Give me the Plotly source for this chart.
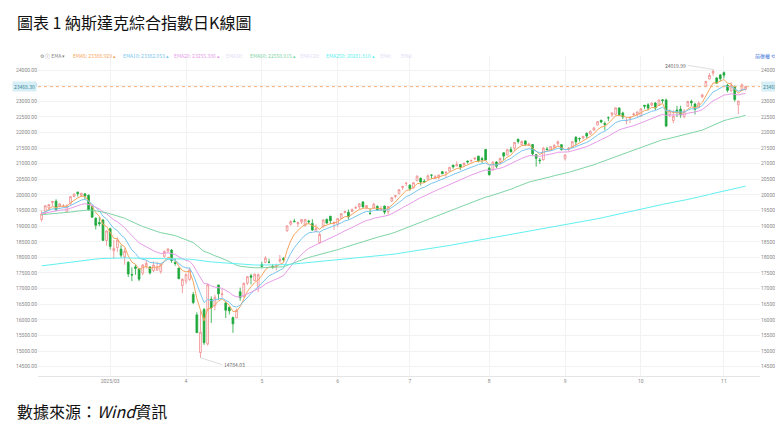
import plotly.graph_objects as go
import pandas as pd

months = {
 "2025-02": [3,4,5,6,7,10,11,12,13,14,18,19,20,21,24,25,26,27,28],
 "2025-03": [3,4,5,6,7,10,11,12,13,14,17,18,19,20,21,24,25,26,27,28,31],
 "2025-04": [1,2,3,4,7,8,9,10,11,14,15,16,17,21,22,23,24,25,28,29,30],
 "2025-05": [1,2,5,6,7,8,9,12,13,14,15,16,19,20,21,22,23,27,28,29,30],
 "2025-06": [2,3,4,5,6,9,10,11,12,13,16,17,18,20,23,24,25,26,27,30],
 "2025-07": [1,2,3,7,8,9,10,11,14,15,16,17,18,21,22,23,24,25,28,29,30,31],
 "2025-08": [1,4,5,6,7,8,11,12,13,14,15,18,19,20,21,22,25,26,27,28,29],
 "2025-09": [2,3,4,5,8,9,10,11,12,15,16,17,18,19,22,23,24,25,26,29,30],
 "2025-10": [1,2,3,6,7,8,9,10,13,14,15,16,17,20,21,22,23,24,27,28,29,30,31],
 "2025-11": [3,4,5,6,7,10,11],
}
dates = [f"{m}-{d:02d}" for m, ds in months.items() for d in ds]

opens = [19215,19404,19585,19757,19800,19641,19623,19460,19716,19945,20086,19978,20037,19987,19633,19252,19117,19199,18540,
 18914,18209,18314,18262,18016,17843,17450,17695,17626,17496,17719,17693,17579,17589,17542,18035,18203,18233,17834,17658,17097,
 17237,17292,16810,16157,14951,16327,15227,16660,16450,17116,16809,16539,16401,16071,16064,16900,16739,17173,17408,17256,17071,
 17768,17838,17848,17710,17716,17881,17965,18855,19062,19161,19076,19138,19020,19164,19088,18831,18470,18984,19220,19320,19095,
 19059,19250,19431,19446,19473,19586,19619,19777,19559,19411,19572,19634,19517,19645,19457,19797,19954,20039,20236,20370,
 20313,20226,20451,20531,20437,20503,20634,20521,20554,20744,20711,20764,20955,20927,20975,20973,21085,21093,21154,21242,21166,21458,
 20858,20796,21053,20988,21353,21283,21458,21497,21783,21612,21730,21587,21615,21293,21115,21129,21472,21433,21516,21638,21611,
 21167,21460,21530,21851,21809,21823,21975,21954,22076,22240,22394,22291,22473,22570,22582,22787,22626,22376,22460,22573,22580,
 22525,22872,22887,22879,22944,22864,23047,23041,22568,22385,22720,22750,22513,22837,22996,22910,22802,23138,23472,23713,23902,23748,23841,
 23917,23516,23337,23471,22891,23363,23382]
highs = [19502,19671,19699,19798,19862,19730,19708,19700,19958,20045,20110,20060,20048,20016,19650,19284,19292,19224,18864,
 18950,18551,18640,18389,18289,17875,17678,17770,17654,17787,17915,17714,17875,17857,17798,18221,18281,18264,17955,17661,17325,
 17484,17681,16893,16241,16292,16384,17148,16753,16801,17118,16988,16596,16423,16101,16357,17029,17196,17389,17475,17479,17483,
 17858,18040,17959,17781,17801,18076,18008,19016,19189,19237,19145,19218,19226,19203,19227,19057,18795,19209,19236,19324,19154,
 19253,19419,19497,19532,19566,19652,19736,19799,19671,19575,19749,19666,19651,19656,19631,19934,20001,20187,20292,20418,
 20338,20395,20624,20558,20504,20656,20656,20634,20643,20770,20734,20889,20956,21077,20980,21021,21102,21110,21190,21253,21220,21457,
 20909,21058,21084,21195,21354,21464,21541,21690,21803,21743,21743,21669,21618,21293,21182,21541,21543,21553,21625,21740,21611,
 21293,21530,21708,21879,21840,21882,22000,22043,22182,22349,22396,22350,22513,22631,22800,22795,22665,22477,22510,22638,22660,
 22780,22878,22938,22966,22974,23051,23069,23086,22741,22715,22853,22858,22749,23016,23048,22954,22997,23235,23652,23903,24020,23768,23877,
 23956,23555,23613,23505,23014,23570,23484]
lows = [19141,19400,19514,19640,19487,19609,19598,19450,19688,19927,19948,19935,19864,19500,19274,18894,18996,18538,18372,
 18253,17956,18175,17998,17765,17367,17238,17442,17239,17431,17638,17449,17528,17564,17477,17987,18145,17828,17730,17293,16854,
 17141,17247,16503,15576,14784,15196,15177,15898,16305,16642,16708,16053,16168,15584,16050,16608,16723,17115,17133,17247,16889,
 17662,17815,17806,17635,17579,17826,17871,18814,19014,19119,18970,19066,18990,19061,18852,18812,18445,18944,19070,19063,18876,
 18977,19227,19423,19211,19447,19550,19551,19591,19546,19362,19569,19497,19483,19379,19373,19784,19895,20025,20157,20279,
 20143,20211,20451,20305,20386,20490,20517,20519,20501,20670,20562,20738,20839,20925,20797,20887,21009,21033,21118,21046,21002,21092,
 20616,20795,20853,20985,21104,21267,21355,21410,21644,21584,21564,21577,21251,20906,20995,21098,21441,21398,21495,21575,21419,
 21102,21393,21515,21590,21712,21780,21814,21924,22062,22232,22296,22073,22363,22490,22552,22524,22429,22262,22308,22529,22483,
 22511,22749,22706,22835,22719,22854,22931,22183,22490,22294,22494,22469,22453,22824,22850,22576,22785,23112,23472,23701,23811,23562,23645,
 23729,23287,23302,22987,22585,23327,23342]
closes = [19392,19654,19692,19792,19523,19714,19644,19650,19946,20027,20041,20056,19962,19524,19287,19026,19075,18544,18847,
 18350,18285,18553,18069,18196,17468,17436,17648,17303,17754,17809,17504,17751,17692,17784,18189,18272,17899,17804,17323,17299,
 17450,17601,16551,15588,15603,15268,17125,16387,16724,16831,16823,16307,16286,15871,16300,16708,17166,17383,17366,17461,17446,
 17711,17978,17844,17690,17738,17928,17929,19010,19147,19146,19112,19211,19215,19143,18873,18926,18737,19199,19101,19176,19114,
 19243,19399,19460,19298,19530,19591,19715,19616,19662,19407,19701,19521,19546,19447,19631,19913,19974,20168,20273,20370,
 20203,20393,20601,20413,20418,20611,20631,20586,20640,20678,20730,20886,20896,20974,20893,21020,21058,21108,21179,21098,21130,21122,
 20650,21054,20917,21169,21243,21450,21385,21682,21713,21711,21623,21630,21315,21173,21100,21497,21449,21544,21590,21705,21456,
 21280,21498,21708,21700,21799,21879,21886,22043,22141,22349,22334,22261,22471,22631,22789,22573,22498,22385,22484,22591,22660,
 22755,22844,22781,22942,22788,23043,23025,22204,22695,22522,22670,22563,22680,22991,22954,22740,22942,23205,23637,23827,23958,23581,23725,
 23835,23349,23500,23054,23005,23527,23468.30]

# EMA starting levels
ema_seeds = {5: 19380, 10: 19420, 20: 19400, 60: 19365, 250: 17714}
ema_colors = {5: "#f6a45e", 10: "#79c6ee", 20: "#e79be8", 60: "#7fd4a6", 250: "#62f0f0"}
last_price = 23468.30
high_label, low_label = "24019.99", "14784.03"
month_ticks = ["2025-03-03","2025-04-01","2025-05-01","2025-06-02","2025-07-01","2025-08-01","2025-09-02","2025-10-01","2025-11-03"]
month_text = ["2025/03","4","5","6","7","8","9","10","11"]
ytick_vals = list(range(14500, 24001, 500))

fig = go.Figure()
fig.add_trace(go.Candlestick(x=dates, open=opens, high=highs, low=lows, close=closes,
    increasing=dict(line=dict(color="#f08a8a", width=0.8), fillcolor="#ffffff"),
    decreasing=dict(line=dict(color="#1fa83c", width=0.8), fillcolor="#1fa83c"),
    whiskerwidth=0, showlegend=False, hoverinfo="skip"))

s = pd.Series(closes, dtype=float)
ema_vals = {}
for n, seed in ema_seeds.items():
    e = pd.concat([pd.Series([seed]), s], ignore_index=True).ewm(span=n, adjust=False).mean().iloc[1:]
    ema_vals[n] = e.values
    fig.add_trace(go.Scatter(x=dates, y=e.values, mode="lines", line=dict(color=ema_colors[n], width=1),
                             showlegend=False, hoverinfo="skip"))
fig.add_trace(go.Scatter(x=[dates[0]], y=[last_price], yaxis="y2", mode="markers",
                         marker=dict(opacity=0), showlegend=False, hoverinfo="skip"))

fig.add_hline(y=last_price, line=dict(color="#f6b07a", width=1, dash="dot"))

yr = [14200, 24450]
axfont = dict(size=5, color="#888888", family="Roboto")
fig.update_layout(
    width=783, height=422, margin=dict(l=30, r=31, t=48, b=54, autoexpand=False),
    paper_bgcolor="white", plot_bgcolor="white",
    xaxis=dict(type="category", rangeslider=dict(visible=False), tickmode="array",
               tickvals=month_ticks, ticktext=month_text, tickfont=axfont,
               showgrid=True, gridcolor="#f2f2f2", showline=True, linecolor="#e5e5e5",
               ticks="", range=[-1, len(dates) + 3], automargin=False),
    yaxis=dict(range=yr, autorange=False, tickvals=ytick_vals, ticktext=[f"{v:.2f}" for v in ytick_vals],
               tickfont=axfont, gridcolor="#f2f2f2", zeroline=False, automargin=False),
    yaxis2=dict(range=yr, autorange=False, overlaying="y", side="right", tickvals=ytick_vals,
                ticktext=[f"{v:.2f}" for v in ytick_vals], tickfont=axfont, showgrid=False, automargin=False),
    font=dict(family="Noto Sans CJK TC"),
)

anns = [
    dict(text="圖表 1 納斯達克綜合指數日K線圖", xref="paper", yref="paper", x=-0.032, y=1.105,
         xanchor="left", yanchor="middle", showarrow=False, font=dict(size=16, color="#111")),
    dict(text="數據來源：<i>Wind</i>資訊", xref="paper", yref="paper", x=-0.032, y=-0.11,
         xanchor="left", yanchor="middle", showarrow=False, font=dict(size=16, color="#111")),
    dict(text=f"{last_price:.2f}", xref="paper", yref="y", x=-0.001, y=last_price, xanchor="right",
         showarrow=False, bgcolor="#d6eef5", font=dict(size=5, color="#3a8a9a")),
    dict(text=f"{last_price:.2f}", xref="paper", yref="y", x=1.001, y=last_price, xanchor="left",
         showarrow=False, bgcolor="#d6eef5", font=dict(size=5, color="#3a8a9a")),
    dict(text=high_label, x=dates[closes.index(23958)], y=24020, ax=-25, ay=-4, showarrow=True,
         arrowhead=0, arrowwidth=0.5, arrowcolor="#bbb", font=dict(size=5, color="#666"), xanchor="right"),
    dict(text=low_label, x=dates[44], y=14784, ax=22, ay=7, showarrow=True,
         arrowhead=0, arrowwidth=0.5, arrowcolor="#bbb", font=dict(size=5, color="#666"), xanchor="left"),
    dict(text="⚙ ⓘ EMA ▾", xref="paper", yref="paper", x=0.0, y=1.02, xanchor="left",
         showarrow=False, font=dict(size=5, color="#888")),
    dict(text="前復權 ⟲ ◎ ⊗", xref="paper", yref="paper", x=1.04, y=1.02, xanchor="right",
         showarrow=False, font=dict(size=5, color="#3a6fd8")),
]
legend_x = {5: 0.046, 10: 0.115, 20: 0.186, 60: 0.291, 250: 0.396}
for n in ema_seeds:
    anns.append(dict(text=f"EMA{n}: {ema_vals[n][-1]:.3f} ▴", xref="paper", yref="paper",
                     x=legend_x[n], y=1.02, xanchor="left", showarrow=False,
                     font=dict(size=5, color=ema_colors[n])))
for t, x in [("EMA30:", 0.258), ("EMA120:", 0.36), ("EMA:", 0.471), ("EMA:", 0.5)]:
    anns.append(dict(text=t, xref="paper", yref="paper", x=x, y=1.02, xanchor="left",
                     showarrow=False, font=dict(size=5, color="#e4dcf4")))
fig.update_layout(annotations=anns)
fig.write_html("out.html")
